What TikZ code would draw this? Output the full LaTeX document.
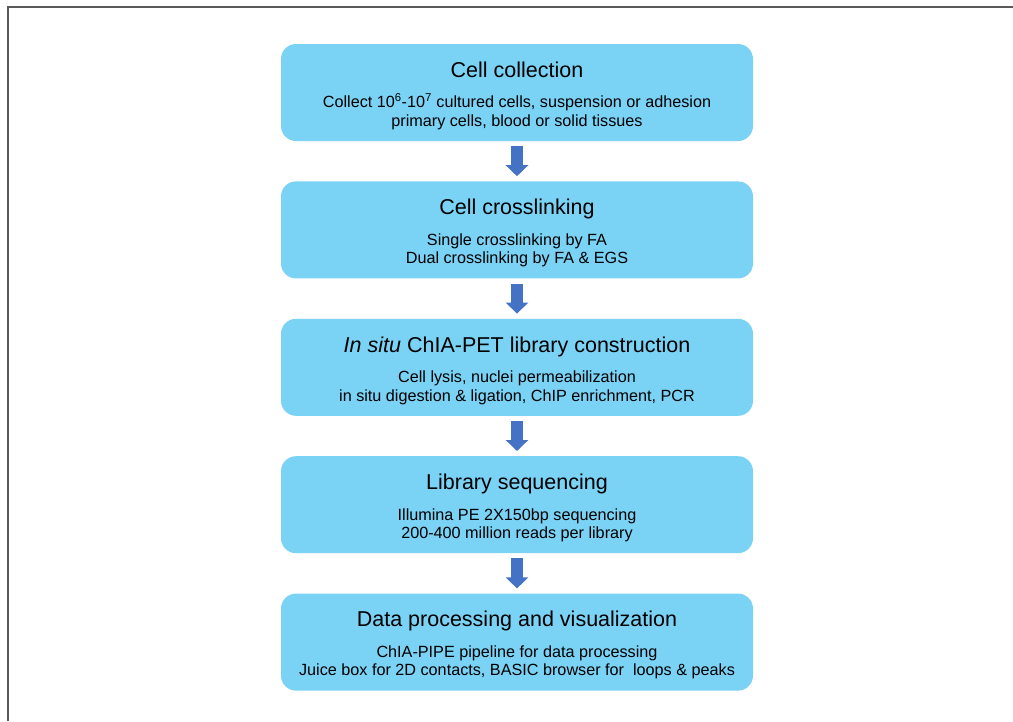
\documentclass[tikz,border=0pt]{standalone}
\usepackage{fontspec}
\setmainfont{Liberation Sans}
\usepackage{tikz}
\usetikzlibrary{arrows.meta, positioning}
\usepackage{xcolor}

\definecolor{boxblue}{RGB}{122,210,245}
\definecolor{arrowblue}{RGB}{68,114,196}
\definecolor{framegray}{RGB}{90,90,90}

\tikzset{
  stepbox/.style={fill=boxblue, rounded corners=15pt, minimum width=472pt, minimum height=97pt, align=center, font=\fontsize{16.2}{18.5}\selectfont},
  flowarrow/.style={draw=arrowblue, line width=12pt, -{Triangle[width=22pt, length=11pt]}, shorten <=5pt, shorten >=5pt}
}
\newcommand{\steptitle}[1]{{\fontsize{21.5}{25}\selectfont\rule{0pt}{22pt}#1}\\[12pt]}

\begin{document}
\begin{tikzpicture}[x=1pt, y=-1pt]
\useasboundingbox (0,0) rectangle (1013,721);
% frame
\draw[framegray, line width=2pt] (7.5,721) -- (7.5,6.5) -- (1013,6.5);

\node[stepbox] (collect) at (517,92.5) {\steptitle{Cell collection}
Collect 10\textsuperscript{6}-10\textsuperscript{7} cultured cells, suspension or adhesion\\
primary cells, blood or solid tissues};
\node[stepbox, below=40pt of collect] (crosslink) {\steptitle{Cell crosslinking}
Single crosslinking by FA\\
Dual crosslinking by FA \& EGS};
\node[stepbox, below=40pt of crosslink] (library) {\steptitle{\textit{In situ} ChIA-PET library construction}
Cell lysis, nuclei permeabilization\\
in situ digestion \& ligation, ChIP enrichment, PCR};
\node[stepbox, below=40pt of library] (sequencing) {\steptitle{Library sequencing}
Illumina PE 2X150bp sequencing\\
200-400 million reads per library};
\node[stepbox, below=40pt of sequencing] (analysis) {\steptitle{Data processing and visualization}
ChIA-PIPE pipeline for data processing\\
Juice box for 2D contacts, BASIC browser for\ \ loops \& peaks};

% arrows between steps
\draw[flowarrow] (collect) -- (crosslink);
\draw[flowarrow] (crosslink) -- (library);
\draw[flowarrow] (library) -- (sequencing);
\draw[flowarrow] (sequencing) -- (analysis);
\end{tikzpicture}
\end{document}
